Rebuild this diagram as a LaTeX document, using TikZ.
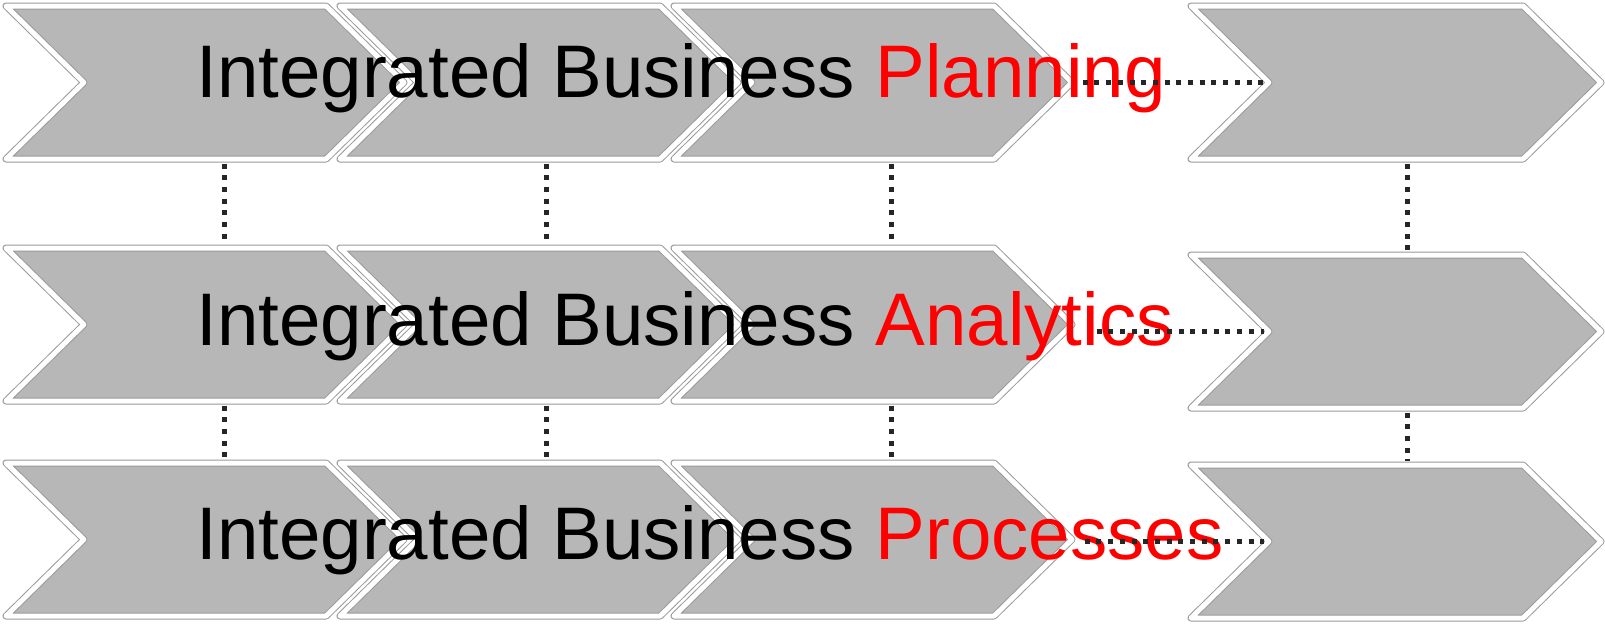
\documentclass[tikz,border=0pt]{standalone}
\usepackage{fontspec}
\setmainfont{Liberation Sans}
\usetikzlibrary{shapes.symbols,positioning}
\definecolor{chevgray}{HTML}{B7B7B7}
\definecolor{rimgray}{HTML}{9A9A9A}
\definecolor{dotgray}{HTML}{262626}
\tikzset{
  chevron/.style={signal, signal from=west, signal to=east, signal pointer angle=89,
    minimum height=76.5pt, minimum width=199pt, inner sep=0pt, line join=round,
    fill=chevgray, draw=rimgray, line width=0.5pt, double=white, double distance=2.5pt},
  endchevron/.style={chevron, minimum width=205pt},
  rowtext/.style={anchor=base west, inner sep=0pt, font=\fontsize{37.25}{40}\selectfont},
  dotline/.style={draw=dotgray, line width=2.5pt, dash pattern=on 2.5pt off 3.35pt,
    shorten <=2pt, shorten >=2pt},
}
\begin{document}
\begin{tikzpicture}[x=0.5pt,y=-0.5pt]
        \useasboundingbox (0,0) rectangle (1605,623);
        % planning row
        \node[chevron] (p1) at (205,82.5) {};
        \node[chevron] (p2) at (539,82.5) {};
        \node[chevron] (p3) at (873,82.5) {};
        \node[endchevron] (p4) at (1396,82.5) {};
        % analytics row
        \node[chevron] (a1) at (205,324.5) {};
        \node[chevron] (a2) at (539,324.5) {};
        \node[chevron] (a3) at (873,324.5) {};
        \node[endchevron] (a4) at (1396,331.5) {};
        % processes row
        \node[chevron] (r1) at (205,539.5) {};
        \node[chevron] (r2) at (539,539.5) {};
        \node[chevron] (r3) at (873,539.5) {};
        \node[endchevron] (r4) at (1396,541.5) {};

        \node[rowtext] (tp) at (196,97) {Integrated Business \textcolor{red}{Planning}};
        \node[rowtext] (ta) at (196,345) {Integrated Business \textcolor{red}{Analytics}};
        \node[rowtext] (tr) at (196,559) {Integrated Business \textcolor{red}{Processes}};

        \draw[dotline, shorten <=5pt] (p3.east) -- (p4.west);
        \draw[dotline, shorten <=12pt] (a3.east |- a4.west) -- (a4.west);
        \draw[dotline, shorten <=6pt] (r3.east |- r4.west) -- (r4.west);

        \draw[dotline] ([xshift=9.5pt]p1.south) -- ([xshift=9.5pt]a1.north);
        \draw[dotline] ([xshift=3.5pt]p2.south) -- ([xshift=3.5pt]a2.north);
        \draw[dotline] ([xshift=9pt]p3.south) -- ([xshift=9pt]a3.north);
        \draw[dotline] ([xshift=5.5pt]p4.south) -- ([xshift=5.5pt]a4.north);
        \draw[dotline] ([xshift=9.5pt]a1.south) -- ([xshift=9.5pt]r1.north);
        \draw[dotline] ([xshift=3.5pt]a2.south) -- ([xshift=3.5pt]r2.north);
        \draw[dotline] ([xshift=9pt]a3.south) -- ([xshift=9pt]r3.north);
        \draw[dotline] ([xshift=5.5pt]a4.south) -- ([xshift=5.5pt]r4.north);
    \end{tikzpicture}
\end{document}
